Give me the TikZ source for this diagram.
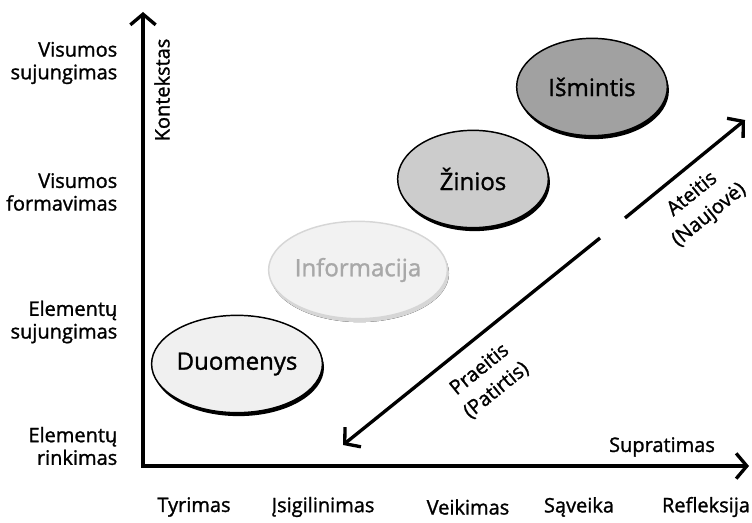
\documentclass[tikz,border=0pt]{standalone}
\usepackage{fontspec}
\setmainfont{Open Sans}[FakeBold=1.3]
\usetikzlibrary{arrows.meta,shapes.geometric,shadows}

\definecolor{duomfill}{gray}{0.94}
\definecolor{infofill}{gray}{0.95}
\definecolor{infoline}{gray}{0.84}
\definecolor{infotext}{gray}{0.66}
\definecolor{zinfill}{gray}{0.80}
\definecolor{ismfill}{gray}{0.63}

\tikzset{
	disk/.style={ellipse, draw=black, line width=1.1pt, minimum width=113pt,
		minimum height=73pt, inner sep=0pt, font=\fontsize{18}{21}\selectfont,
		general shadow={shadow xshift=1.2pt, shadow yshift=-2.6pt, fill=black}},
	axis/.style={line width=2.5pt, -{Straight Barb[length=8pt,width=19pt]}},
	lvl/.style={anchor=east, align=right, font=\fontsize{15}{17}\selectfont},
	stage/.style={font=\fontsize{15}{17}\selectfont},
	diag/.style={align=center, rotate=39, font=\fontsize{15}{20}\selectfont}
}

\begin{document}
\begin{tikzpicture}[x=0.75pt, y=-0.75pt]
	\useasboundingbox (0,0) rectangle (752,523);

	% Achsen
	\coordinate (O) at (143,466);
	\coordinate (ytip) at (143,12);
	\coordinate (xtip) at (749,466);
	\draw[axis, line cap=butt] (O) -- (ytip);
	\draw[axis] ([xshift=-1.25pt]O) -- (xtip);
	\node[rotate=90, font=\fontsize{15}{17}\selectfont] (kont) at (162,90) {Kontekstas};
	\node[stage] (supr) at (662,447) {Supratimas};

	% Ebenen links
	\node[lvl] (l1) at (122,63) {Visumos\\sujungimas};
	\node[lvl] (l2) at (122,192) {Visumos\\formavimas};
	\node[lvl] (l3) at (122,322) {Elementų\\sujungimas};
	\node[lvl] (l4) at (122,446) {Elementų\\rinkimas};

	% Stufen unten
	\foreach \x/\t [count=\i] in {194/Tyrimas, 323/Įsigilinimas, 468/Veikimas,
		579/Sąveika, 706/Refleksija}
		\node[stage] (s\i) at (\x,507) {\t};

	% Ellipsen
	\node[disk, fill=duomfill] (duom) at (237,364) {Duomenys};
	\node[disk, fill=infofill, draw=infoline, text=infotext,
		general shadow={shadow xshift=1.2pt, shadow yshift=-2.6pt, fill=infoline}]
		(info) at (358,270) {Informacija};
	\node[disk, fill=zinfill] (zin) at (473,179) {Žinios};
	\node[disk, fill=ismfill] (ism) at (592,87) {Išmintis};

	% Zeitpfeil
	\coordinate (past) at (343,445);
	\coordinate (cut1) at (600,238);
	\coordinate (cut2) at (625,218);
	\coordinate (future) at (745,120);
	\draw[axis] (cut1) -- (past);
	\draw[axis] (cut2) -- (future);
	\node[diag] (prae) at (488,380) {Praeitis\\(Patirtis)};
	\node[diag] (ateit) at (701,205) {Ateitis\\(Naujovė)};
\end{tikzpicture}
\end{document}
